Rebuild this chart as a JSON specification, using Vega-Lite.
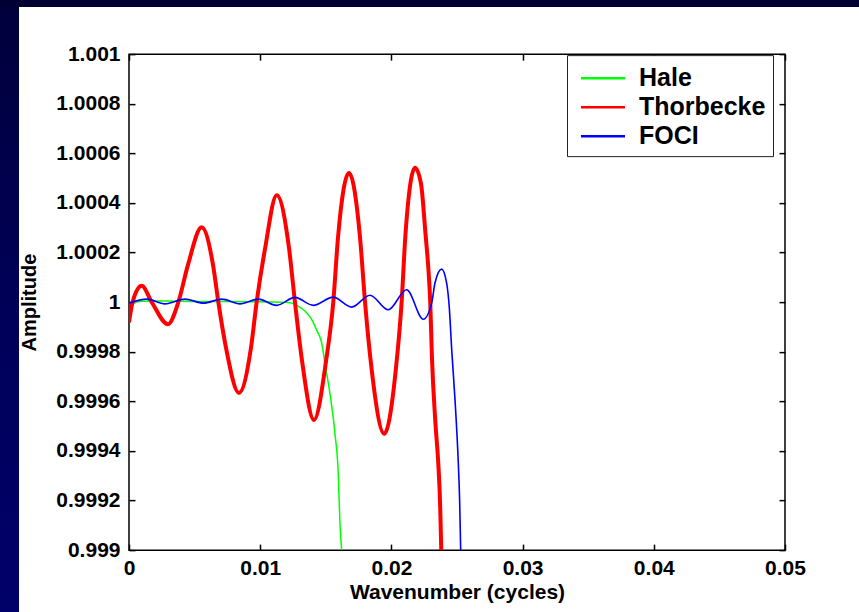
{
  "$schema": "https://vega.github.io/schema/vega-lite/v6.json",
  "background": "#ffffff",
  "padding": 0,
  "spacing": 0,
  "config": {
    "font": "Liberation Sans",
    "view": {"stroke": null},
    "axis": {
      "grid": false,
      "domain": false,
      "tickColor": "#000000",
      "tickWidth": 1.5,
      "tickSize": -6,
      "labelFont": "Liberation Sans",
      "labelFontWeight": "bold",
      "labelFontSize": 21,
      "labelColor": "#000000",
      "labelFlush": false,
      "labelOverlap": false,
      "titleFont": "Liberation Sans",
      "titleFontWeight": "bold",
      "titleColor": "#000000"
    }
  },
  "resolve": {"scale": {"color": "independent"}, "legend": {"color": "independent"}},
  "datasets": {
    "one": [{"panel": "frame"}],
    "curves": [
      {"s": "Hale", "v": 0, "a": 0.999994},
      {"s": "Hale", "v": 0.001, "a": 1.000004},
      {"s": "Hale", "v": 0.003, "a": 1.000005},
      {"s": "Hale", "v": 0.005, "a": 1.000003},
      {"s": "Hale", "v": 0.007, "a": 1.000003},
      {"s": "Hale", "v": 0.009, "a": 1.000002},
      {"s": "Hale", "v": 0.011, "a": 1.000001},
      {"s": "Hale", "v": 0.012, "a": 0.999999},
      {"s": "Hale", "v": 0.01242, "a": 0.999996},
      {"s": "Hale", "v": 0.0129, "a": 0.999983},
      {"s": "Hale", "v": 0.01341, "a": 0.999964},
      {"s": "Hale", "v": 0.01393, "a": 0.999929},
      {"s": "Hale", "v": 0.01431, "a": 0.999886},
      {"s": "Hale", "v": 0.01469, "a": 0.999835},
      {"s": "Hale", "v": 0.01494, "a": 0.999751},
      {"s": "Hale", "v": 0.01532, "a": 0.99963},
      {"s": "Hale", "v": 0.0157, "a": 0.999469},
      {"s": "Hale", "v": 0.01595, "a": 0.999308},
      {"s": "Hale", "v": 0.01608, "a": 0.999106},
      {"s": "Hale", "v": 0.01621, "a": 0.999},
      {"s": "Thorbecke", "v": 0, "a": 0.999918},
      {"s": "Thorbecke", "v": 0.00027, "a": 1.0},
      {"s": "Thorbecke", "v": 0.00097, "a": 1.000066},
      {"s": "Thorbecke", "v": 0.00173, "a": 1.0},
      {"s": "Thorbecke", "v": 0.00297, "a": 0.999911},
      {"s": "Thorbecke", "v": 0.00376, "a": 1.0},
      {"s": "Thorbecke", "v": 0.0045, "a": 1.000151},
      {"s": "Thorbecke", "v": 0.00554, "a": 1.000302},
      {"s": "Thorbecke", "v": 0.0064, "a": 1.000151},
      {"s": "Thorbecke", "v": 0.00681, "a": 1.0},
      {"s": "Thorbecke", "v": 0.00739, "a": 0.999817},
      {"s": "Thorbecke", "v": 0.00838, "a": 0.999634},
      {"s": "Thorbecke", "v": 0.0093, "a": 0.999817},
      {"s": "Thorbecke", "v": 0.00973, "a": 1.0},
      {"s": "Thorbecke", "v": 0.01037, "a": 1.000216},
      {"s": "Thorbecke", "v": 0.01126, "a": 1.000431},
      {"s": "Thorbecke", "v": 0.0122, "a": 1.000216},
      {"s": "Thorbecke", "v": 0.01265, "a": 1.0},
      {"s": "Thorbecke", "v": 0.01319, "a": 0.999763},
      {"s": "Thorbecke", "v": 0.0141, "a": 0.999525},
      {"s": "Thorbecke", "v": 0.01502, "a": 0.999763},
      {"s": "Thorbecke", "v": 0.01557, "a": 1.0},
      {"s": "Thorbecke", "v": 0.01593, "a": 1.00026},
      {"s": "Thorbecke", "v": 0.01677, "a": 1.000521},
      {"s": "Thorbecke", "v": 0.01761, "a": 1.00026},
      {"s": "Thorbecke", "v": 0.01799, "a": 1.0},
      {"s": "Thorbecke", "v": 0.01848, "a": 0.999735},
      {"s": "Thorbecke", "v": 0.01946, "a": 0.999469},
      {"s": "Thorbecke", "v": 0.02035, "a": 0.999735},
      {"s": "Thorbecke", "v": 0.02078, "a": 1.0},
      {"s": "Thorbecke", "v": 0.02107, "a": 1.000271},
      {"s": "Thorbecke", "v": 0.0218, "a": 1.000542},
      {"s": "Thorbecke", "v": 0.02226, "a": 1.000476},
      {"s": "Thorbecke", "v": 0.0226, "a": 1.000274},
      {"s": "Thorbecke", "v": 0.02283, "a": 1.000125},
      {"s": "Thorbecke", "v": 0.02296, "a": 1.0},
      {"s": "Thorbecke", "v": 0.02309, "a": 0.999778},
      {"s": "Thorbecke", "v": 0.02336, "a": 0.999509},
      {"s": "Thorbecke", "v": 0.02359, "a": 0.999335},
      {"s": "Thorbecke", "v": 0.02372, "a": 0.999173},
      {"s": "Thorbecke", "v": 0.0238, "a": 0.999},
      {"s": "FOCI", "v": 0, "a": 0.999996},
      {"s": "FOCI", "v": 0.00135, "a": 1.000012},
      {"s": "FOCI", "v": 0.00274, "a": 0.999993},
      {"s": "FOCI", "v": 0.00427, "a": 1.000012},
      {"s": "FOCI", "v": 0.00567, "a": 0.999996},
      {"s": "FOCI", "v": 0.00707, "a": 1.000012},
      {"s": "FOCI", "v": 0.00846, "a": 0.999993},
      {"s": "FOCI", "v": 0.00986, "a": 1.000012},
      {"s": "FOCI", "v": 0.01125, "a": 0.999987},
      {"s": "FOCI", "v": 0.01265, "a": 1.000019},
      {"s": "FOCI", "v": 0.01405, "a": 0.999987},
      {"s": "FOCI", "v": 0.01557, "a": 1.00002},
      {"s": "FOCI", "v": 0.01697, "a": 0.99998},
      {"s": "FOCI", "v": 0.01837, "a": 1.000028},
      {"s": "FOCI", "v": 0.01976, "a": 0.999969},
      {"s": "FOCI", "v": 0.02116, "a": 1.00005},
      {"s": "FOCI", "v": 0.02243, "a": 0.999931},
      {"s": "FOCI", "v": 0.02307, "a": 0.999996},
      {"s": "FOCI", "v": 0.02332, "a": 1.000077},
      {"s": "FOCI", "v": 0.02383, "a": 1.000133},
      {"s": "FOCI", "v": 0.02421, "a": 1.000077},
      {"s": "FOCI", "v": 0.02441, "a": 0.99998},
      {"s": "FOCI", "v": 0.0246, "a": 0.999805},
      {"s": "FOCI", "v": 0.02485, "a": 0.999605},
      {"s": "FOCI", "v": 0.0251, "a": 0.99935},
      {"s": "FOCI", "v": 0.0252, "a": 0.999202},
      {"s": "FOCI", "v": 0.02528, "a": 0.999}
    ]
  },
  "vconcat": [
    {
      "width": 859,
      "height": 7,
      "data": {"name": "one"},
      "mark": {"type": "rect", "color": "#000033"},
      "encoding": {}
    },
    {
      "spacing": 0,
      "center": true,
      "resolve": {"scale": {"color": "independent"}, "legend": {"color": "independent"}},
      "hconcat": [
        {
          "width": 19,
          "height": 643,
          "data": {"name": "one"},
          "mark": {
            "type": "rect",
            "color": {
              "gradient": "linear",
              "x1": 0, "y1": 0, "x2": 0, "y2": 1,
              "stops": [
                {"offset": 0, "color": "#00003c"},
                {"offset": 0.5, "color": "#00005a"},
                {"offset": 1, "color": "#00006c"}
              ]
            }
          },
          "encoding": {}
        },
        {
          "width": 656,
          "height": 496,
          "view": {"stroke": "#000000", "strokeWidth": 1.5},
          "data": {"name": "curves"},
          "resolve": {"axis": {"x": "independent", "y": "independent"}},
          "layer": [
            {
              "encoding": {
                "x": {
                  "field": "v",
                  "type": "quantitative",
                  "scale": {"domain": [0, 0.05], "nice": false, "zero": false},
                  "axis": {
                    "orient": "bottom",
                    "values": [0, 0.01, 0.02, 0.03, 0.04, 0.05],
                    "format": ".2~f",
                    "labelPadding": 13,
                    "title": "Wavenumber (cycles)",
                    "titleFontSize": 21,
                    "titlePadding": 3
                  }
                },
                "y": {
                  "field": "a",
                  "type": "quantitative",
                  "scale": {"domain": [0.999, 1.001], "nice": false, "zero": false},
                  "axis": {
                    "orient": "left",
                    "values": [0.999, 0.9992, 0.9994, 0.9996, 0.9998, 1, 1.0002, 1.0004, 1.0006, 1.0008, 1.001],
                    "format": ".4~f",
                    "labelPadding": 15,
                    "title": "Amplitude",
                    "titleFontSize": 20,
                    "titlePadding": 16
                  }
                },
                "color": {
                  "field": "s",
                  "type": "nominal",
                  "scale": {"domain": ["Hale", "Thorbecke", "FOCI"], "range": ["#00ff00", "#ff0000", "#0000ff"]},
                  "legend": {
                    "title": null,
                    "orient": "none",
                    "legendX": 438,
                    "legendY": 1,
                    "symbolType": "M-1.5,0H1.5",
                    "symbolSize": 861,
                    "symbolStrokeWidth": 2.5,
                    "labelFont": "Liberation Sans",
                    "labelFontWeight": "bold",
                    "labelFontSize": 25,
                    "labelColor": "#000000",
                    "labelOffset": 20,
                    "padding": 7,
                    "symbolOffset": 13,
                    "rowPadding": 0,
                    "fillColor": "#ffffff",
                    "strokeColor": "#222222"
                  }
                }
              },
              "layer": [
                {
                  "transform": [{"filter": "datum.s === 'Hale'"}],
                  "mark": {"type": "line", "interpolate": "monotone", "strokeWidth": 1.5, "clip": true}
                },
                {
                  "transform": [{"filter": "datum.s === 'Thorbecke'"}],
                  "mark": {"type": "line", "interpolate": "monotone", "strokeWidth": 4, "clip": true}
                },
                {
                  "transform": [{"filter": "datum.s === 'FOCI'"}],
                  "mark": {"type": "line", "interpolate": "monotone", "strokeWidth": 1.6, "clip": true}
                }
              ]
            },
            {
              "transform": [{"filter": "datum.s === 'FOCI'"}],
              "mark": {"type": "line", "strokeOpacity": 0},
              "encoding": {
                "x": {
                  "field": "v",
                  "type": "quantitative",
                  "scale": {"domain": [0, 0.05], "nice": false, "zero": false},
                  "axis": {"orient": "top", "values": [0, 0.01, 0.02, 0.03, 0.04, 0.05], "labels": false, "title": null}
                },
                "y": {
                  "field": "a",
                  "type": "quantitative",
                  "scale": {"domain": [0.999, 1.001], "nice": false, "zero": false},
                  "axis": {"orient": "right", "values": [0.999, 0.9992, 0.9994, 0.9996, 0.9998, 1, 1.0002, 1.0004, 1.0006, 1.0008, 1.001], "labels": false, "title": null}
                }
              }
            }
          ]
        }
      ]
    }
  ]
}
